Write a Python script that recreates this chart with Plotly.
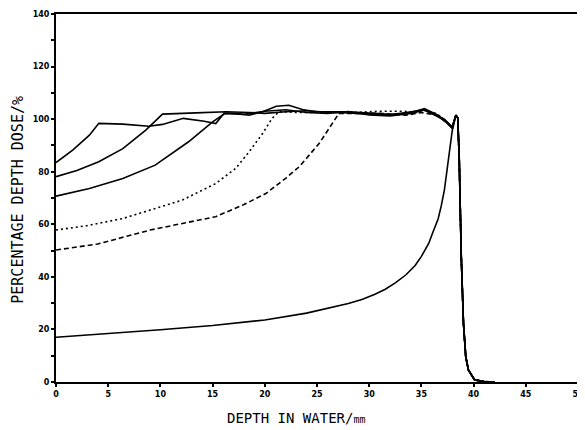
import plotly.graph_objects as go

# Shared distal fall-off (all curves)
tail_x = [38.48, 38.62, 38.82, 39.03, 39.25, 39.5, 40.1, 41.0, 42.0]
tail_y = [100.5, 85.7, 47.6, 22.3, 9.6, 4.6, 0.8, 0.2, 0.0]

# Pristine Bragg peak (bottom solid)
a_x = [0, 5, 10, 15, 20, 24, 26.1, 28, 29.3, 30.5, 31.5, 32.5, 33.5, 34.4, 35.0, 35.7, 36.1, 36.6, 36.9,
       37.2, 37.6, 37.95, 38.3]
a_y = [17.0, 18.4, 19.9, 21.5, 23.6, 26.2, 28.0, 29.9, 31.4, 33.3, 35.2, 37.7, 40.7, 44.3, 47.8, 52.7, 57.0,
       62.0, 67.0, 73.0, 85.0, 95.5, 101.5]

# Spread-out curves
b_x = [0, 1.6, 3.2, 4.1, 6.4, 8.9, 10.2, 12.2, 14.2, 15.3, 16.1, 17.2, 18.5, 19.8, 21.1, 22.3, 23.6, 24.9,
       28, 30, 32, 34, 35.3, 36.3, 37.3, 37.95, 38.3]
b_y = [83.5, 88.2, 93.9, 98.4, 98.1, 97.3, 98.0, 100.3, 99.2, 98.3, 102.2, 102.2, 101.5, 102.8, 104.9, 105.3,
       103.7, 102.8, 102.8, 102.2, 101.8, 102.5, 104.0, 102.0, 99.0, 96.5, 101.5]

c_x = [0, 2, 4.1, 6.4, 8.6, 10.2, 13.4, 16.3, 18.5, 20, 22, 24, 26, 28, 30, 32, 34, 35.3, 36.3, 37.3, 37.95, 38.3]
c_y = [78.1, 80.5, 83.8, 88.8, 95.8, 101.9, 102.4, 102.8, 102.5, 102.2, 102.8, 103.2, 102.6, 102.4, 101.9,
       101.5, 102.8, 103.5, 101.5, 99.5, 97.0, 101.5]

d_x = [0, 3.2, 6.4, 9.5, 12.7, 15.0, 16.2, 18, 20, 22, 24, 26, 28, 30, 32, 34, 35.3, 36.3, 37.3, 37.95, 38.3]
d_y = [70.7, 73.6, 77.4, 82.5, 91.4, 99.0, 102.2, 101.8, 103.0, 103.6, 102.5, 102.2, 102.9, 101.6, 101.2,
       102.2, 103.5, 102.2, 99.5, 96.5, 101.5]

e_x = [0, 3, 6.4, 9.5, 12.1, 15.3, 17.2, 18.5, 19.8, 20.7, 21.4, 23, 25, 27, 29, 31, 33.3, 34.5, 35.5, 36.5,
       37.3, 37.95, 38.3]
e_y = [57.8, 59.5, 62.2, 66.0, 69.2, 75.5, 81.2, 87.6, 94.6, 100.3, 103.0, 102.5, 102.5, 102.8, 102.6, 103.0,
       103.0, 102.5, 103.3, 102.0, 99.5, 97.0, 101.5]

f_x = [0, 4, 9.0, 12, 15.3, 18, 20.1, 22, 23.3, 25.2, 26.5, 27.1, 29, 31, 33.5, 35, 36.6, 37.3, 37.95, 38.3]
f_y = [50.2, 52.5, 57.8, 60.3, 62.9, 67.5, 71.7, 77.5, 81.9, 90.7, 98.4, 102.2, 102.2, 102.2, 101.5, 102.5,
       101.5, 99.5, 97.0, 101.5]

x_ticks = [0, 5, 10, 15, 20, 25, 30, 35, 40, 45, 50]
y_ticks = [0, 20, 40, 60, 80, 100, 120, 140]

fig = go.Figure()
series = [
    (a_x, a_y, "solid"),
    (b_x, b_y, "solid"),
    (c_x, c_y, "solid"),
    (d_x, d_y, "solid"),
    (e_x, e_y, "2px,3px"),
    (f_x, f_y, "5px,3px"),
]
for xs, ys, dash in series:
    fig.add_trace(go.Scatter(x=xs + tail_x, y=ys + tail_y, mode="lines",
                             line=dict(color="black", width=1.6, dash=dash),
                             showlegend=False, hoverinfo="skip"))

tickfont = dict(family="DejaVu Sans", size=8, color="black", weight="bold")
fig.update_xaxes(range=[0, 50], tickvals=x_ticks, ticktext=[str(v) for v in x_ticks],
                 showgrid=False, zeroline=False, showline=True, mirror=True, automargin=False,
                 linecolor="black", linewidth=2, ticks="outside", ticklen=3,
                 tickcolor="black", tickwidth=2, tickfont=tickfont)
fig.update_yaxes(range=[0, 140], tickvals=y_ticks, ticktext=[str(v) for v in y_ticks],
                 showgrid=False, zeroline=False, showline=True, mirror=True, automargin=False,
                 linecolor="black", linewidth=2, ticks="outside", ticklen=3,
                 tickcolor="black", tickwidth=2, tickfont=tickfont,
                 minor=dict(dtick=10, tick0=0, ticks="outside", ticklen=3, tickwidth=2, tickcolor="black"))

# page body has an 8px margin, so the figure is shrunk to fit the 585x430 window
fig.update_layout(
    width=577, height=422,
    margin=dict(l=48, r=7, t=6, b=48),
    paper_bgcolor="white", plot_bgcolor="white",
    annotations=[
        dict(text="DEPTH IN WATER/<span style='font-size:10px'>mm</span>", xref="paper", yref="paper",
             x=0.46, y=-0.098, showarrow=False, xanchor="center", yanchor="middle",
             font=dict(family="DejaVu Sans Mono", size=14, color="black")),
        dict(text="PERCENTAGE DEPTH DOSE/%", xref="paper", yref="paper",
             x=-0.073, y=0.495, showarrow=False, textangle=-90, xanchor="center", yanchor="middle",
             font=dict(family="DejaVu Sans Mono", size=15, color="black")),
    ],
)

fig.write_html("out.html")
